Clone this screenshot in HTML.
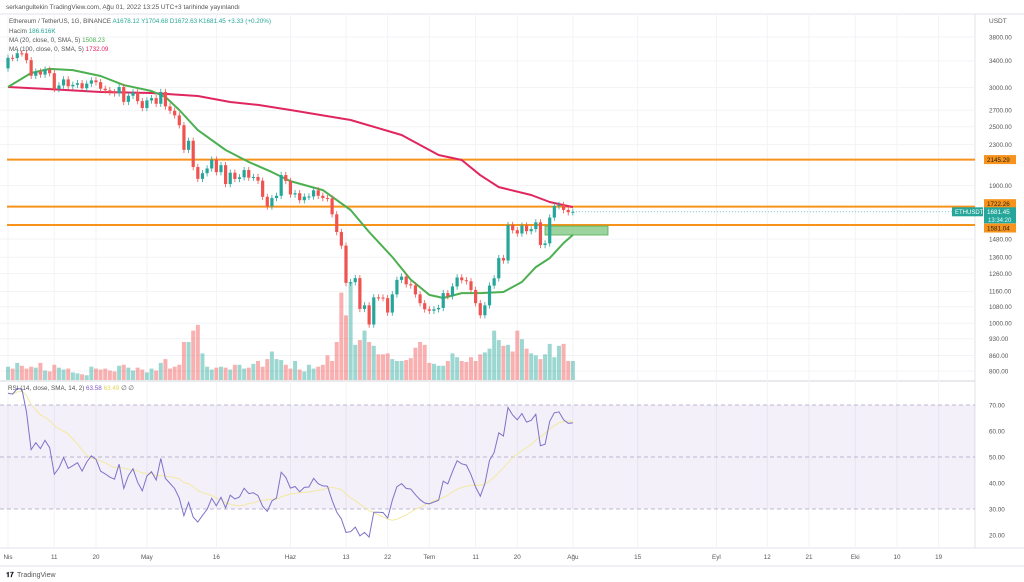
<!DOCTYPE html>
<html><head><meta charset="utf-8"><style>
html,body{margin:0;padding:0;background:#fff;width:1024px;height:582px;overflow:hidden;font-family:"Liberation Sans",sans-serif}
svg text{font-family:"Liberation Sans",sans-serif}
</style></head><body>
<svg id="c" width="1024" height="582" viewBox="0 0 1024 582" xmlns="http://www.w3.org/2000/svg">
<rect x="0" y="0" width="1024" height="582" fill="#fff"/>
<text x="6" y="9" font-size="6.5" fill="#555">serkangultekin TradingView.com, Ağu 01, 2022 13:25 UTC+3 tarihinde yayınlandı</text>
<line x1="0" y1="14" x2="1024" y2="14" stroke="#e0e3eb" stroke-width="1"/>
<line x1="975" y1="14" x2="975" y2="548" stroke="#e0e3eb" stroke-width="1"/>
<line x1="0" y1="381" x2="975" y2="381" stroke="#d1d4dc" stroke-width="1"/>
<line x1="0" y1="548" x2="1024" y2="548" stroke="#e0e3eb" stroke-width="1"/>
<line x1="0" y1="566" x2="1024" y2="566" stroke="#e0e3eb" stroke-width="1"/>
<g id="grid"></g>
<g id="vol"></g>
<g id="hl"></g>
<g id="ma"></g>
<g id="candles"></g>
<g id="rsi"></g>
<g id="axes"></g>
<g font-size="6.3">
<text x="9" y="23" fill="#555">Ethereum / TetherUS, 1G, BINANCE  <tspan fill="#26a69a">A1678.12  Y1704.68  D1672.63  K1681.45  +3.33 (+0.20%)</tspan></text>
<text x="9" y="33" fill="#555">Hacim  <tspan fill="#26a69a">186.616K</tspan></text>
<text x="9" y="42" fill="#555">MA (20, close, 0, SMA, 5)  <tspan fill="#4caf50">1508.23</tspan></text>
<text x="9" y="51" fill="#555">MA (100, close, 0, SMA, 5)  <tspan fill="#e91e63">1732.09</tspan></text>
<text x="8" y="390" fill="#555">RSI (14, close, SMA, 14, 2)  <tspan fill="#7e57c2">63.58</tspan>  <tspan fill="#e6d35a">63.49</tspan>  ∅  ∅</text>
</g>
<text x="989" y="23" font-size="6.5" fill="#555">USDT</text>
<g><text x="6" y="577" font-size="7" fill="#131722" font-weight="bold">𝟏𝟕</text><text x="17" y="577" font-size="7" fill="#555">TradingView</text></g>
</svg>
<script>
// ---- data ----
const preCloses=[2945,3000,2860,2897,2972,3031,3109,3106,3143,3292,3336,3402,3385,3283];
const closes=[3449,3445,3522,3521,3411,3171,3233,3189,3262,3209,2982,3031,3118,3019,3040,3063,2992,3057,3104,3078,2986,2964,2938,2922,3009,2808,2889,2935,2817,2729,
2827,2857,2783,2940,2749,2694,2636,2518,2245,2342,2072,1961,2013,2058,2145,2023,2090,1914,2018,1960,1975,2043,1972,1978,1944,1803,1725,1793,1812,1996,1942,
1823,1834,1775,1804,1806,1859,1812,1793,1790,1662,1530,1436,1207,1211,1234,1069,1087,994,1128,1127,1124,1051,1144,1224,1243,1199,1193,1144,1098,1067,
1060,1067,1074,1151,1134,1187,1238,1222,1216,1168,1098,1038,1087,1192,1233,1355,1340,1581,1543,1520,1577,1536,1551,1601,1440,1451,1637,1727,1736,1696,1678.12,1681.45];
const volumes=[14,12,18,15,12,14,13,18,10,9,16,13,11,12,8,7,6,5,14,12,11,12,10,9,15,16,13,10,13,11,
8,12,10,18,22,12,14,16,40,40,52,58,28,14,11,13,14,13,11,16,16,12,13,17,20,14,22,30,22,21,16,
12,20,11,9,16,12,14,16,26,20,40,92,68,103,37,42,52,40,36,27,27,28,22,20,20,21,23,34,40,37,
18,17,15,15,20,28,24,20,19,24,20,27,29,33,52,42,36,37,30,52,43,33,28,26,22,27,38,24,36,38,20,20,5];
const ma20Days=[0,5,9,14,20,25,31,34,37,41,47,52,57,61,68,74,78,83,87,91,94,98,102,107,111,114,117,120,122];
const ma20Vals=[3010,3212,3275,3257,3168,3037,2954,2872,2704,2462,2243,2121,2024,1940,1861,1696,1530,1362,1225,1141,1125,1151,1151,1157,1212,1299,1355,1454,1510];
const ma100Days=[0,9,20,31,41,48,54,61,74,85,93,98,102,106,113,117,122];
const ma100Vals=[3010,2980,2940,2927,2886,2806,2768,2704,2580,2406,2192,2141,1995,1887,1819,1760,1719];
const priceTicks=[3800,3400,3000,2700,2500,2300,1900,1480,1360,1260,1160,1080,1000,930,860,800];
const levels=[2145.29,1722.26,1581.04];
const rsiTicks=[70,60,50,40,30,20];
const dateLabels=["Nis","11","20","May","16","Haz","13","22","Tem","11","20","Ağu","15","Eyl","12","21","Eki","10","19"];
const dateDays=[0,10,19,30,45,61,73,82,91,101,110,122,136,153,164,173,183,192,201];
// ---- scales ----
const NS="http://www.w3.org/2000/svg";
const X0=8,DX=4.63;
const x=d=>X0+d*DX;
const LT=Math.log(3800),K=214.4;
const y=p=>37+(LT-Math.log(p))*K;
const ry=v=>405+(70-v)*2.6;
function mk(tag,attrs,parent){const e=document.createElementNS(NS,tag);for(const k in attrs)e.setAttribute(k,attrs[k]);parent.appendChild(e);return e;}
const g=id=>document.getElementById(id);
// grid
priceTicks.forEach(p=>{const l=mk('line',{x1:0,x2:975,y1:y(p),y2:y(p),stroke:'#f2f3f6','stroke-width':1},g('grid'));


const t=mk('text',{x:989,y:y(p)+2.3,'font-size':6.3,fill:'#555'},g('axes'));t.textContent=p.toFixed(2);

});
dateDays.forEach((d,i)=>{const l=mk('line',{x1:x(d),x2:x(d),y1:14,y2:548,stroke:'#f2f3f6','stroke-width':1},g('grid'));


const t=mk('text',{x:x(d),y:559,'font-size':6.3,fill:'#555','text-anchor':'middle'},g('axes'));t.textContent=dateLabels[i];

});
// rsi band
const band=mk('rect',{x:0,y:ry(70),width:975,height:ry(30)-ry(70),fill:'rgba(126,87,194,0.09)'},g('rsi'));


[70,50,30].forEach(v=>{const l=mk('line',{x1:0,x2:975,y1:ry(v),y2:ry(v),stroke:'#a9a3c4','stroke-dasharray':'4 3','stroke-width':0.8},g('rsi'));

});
rsiTicks.forEach(v=>{const t=mk('text',{x:989,y:ry(v)+2.3,'font-size':6.3,fill:'#555'},g('axes'));t.textContent=v.toFixed(2);

});
// candles & volume
const opens=closes.map((c,i)=>i?closes[i-1]:preCloses[preCloses.length-1]);
closes.forEach((c,i)=>{const o=opens[i],up=c>=o,col=up?'#26a69a':'#ef5350';
const vh=volumes[i]*0.95;
const vb=mk('rect',{x:x(i)-2,y:380-vh,width:4,height:vh,fill:up?'rgba(38,166,154,0.45)':'rgba(239,83,80,0.45)'},g('vol'));


const hi=Math.max(o,c)*1.015,lo=Math.min(o,c)*0.985;
const w=mk('line',{x1:x(i),x2:x(i),y1:y(hi),y2:y(lo),stroke:col,'stroke-width':0.8},g('candles'));


const top=y(Math.max(o,c)),bh=Math.max(1,y(Math.min(o,c))-top);
const b=mk('rect',{x:x(i)-1.6,y:top,width:3.2,height:bh,fill:col},g('candles'));

});
// MAs
function line(days,vals,color,name){const d=days.map((dd,i)=>(i?'L':'M')+x(dd).toFixed(1)+' '+y(vals[i]).toFixed(1)).join(' ');
const p=mk('path',{d:d,fill:'none',stroke:color,'stroke-width':2,'stroke-linejoin':'round'},g('ma'));

}
line(ma100Days,ma100Vals,'#e0265e','ma100-line');
line(ma20Days,ma20Vals,'#4caf50','ma20-line');
// horizontal levels
const lvlNames=['resistance-2145','resistance-1722','support-1581'];
const tagOff=[0,-3,3];
levels.forEach((p,i)=>{const l=mk('line',{x1:7,x2:975,y1:y(p),y2:y(p),stroke:'#f7931a','stroke-width':2},g('hl'));


const r=mk('rect',{x:984,y:y(p)-4.5+tagOff[i],width:32,height:9,fill:'#f7931a'},g('axes'));


const t=mk('text',{x:987,y:y(p)+2.3+tagOff[i],'font-size':6.3,fill:'#222'},g('axes'));t.textContent=p.toFixed(2);

});
// demand zone
const z=mk('rect',{x:545,y:y(1581)+1,width:63,height:9,fill:'rgba(76,175,80,0.55)',stroke:'#4caf50','stroke-width':0.8},g('hl'));


// last price
const lp=closes[closes.length-1];
const dl=mk('line',{x1:x(122),x2:975,y1:y(lp),y2:y(lp),stroke:'#26a69a','stroke-dasharray':'1 2','stroke-width':0.7},g('hl'));


const sb=mk('rect',{x:952,y:y(lp)-4.5,width:31,height:9,fill:'#26a69a'},g('axes'));


const st=mk('text',{x:955,y:y(lp)+2.3,'font-size':6,fill:'#fff'},g('axes'));st.textContent='ETHUSDT';


const pb=mk('rect',{x:984,y:y(lp)-4.5,width:32,height:16,fill:'#26a69a'},g('axes'));


const pt=mk('text',{x:987,y:y(lp)+2.3,'font-size':6.3,fill:'#fff'},g('axes'));pt.textContent=lp.toFixed(2);


const ct=mk('text',{x:988,y:y(lp)+10,'font-size':6,fill:'#dff'},g('axes'));ct.textContent='13:34:20';


// RSI computed from closes
const all=preCloses.concat(closes);
let ag=0,al=0;for(let i=1;i<=14;i++){const d=all[i]-all[i-1];if(d>0)ag+=d;else al-=d;}ag/=14;al/=14;
const rsi=[];
for(let i=14;i<all.length;i++){if(i>14){const d=all[i]-all[i-1];ag=(ag*13+Math.max(d,0))/14;al=(al*13+Math.max(-d,0))/14;}
rsi.push(100-100/(1+ag/Math.max(al,1e-9)));}
const rsiMa=rsi.map((v,i)=>{const s=rsi.slice(Math.max(0,i-13),i+1);return s.reduce((a,b)=>a+b,0)/s.length;});
function rline(arr,color,name){const d=arr.map((v,i)=>(i?'L':'M')+x(i).toFixed(1)+' '+ry(v).toFixed(1)).join(' ');
const p=mk('path',{d:d,fill:'none',stroke:color,'stroke-width':1},g('rsi'));

}
rline(rsiMa,'#f3e9a0','rsi-ma-line');
rline(rsi,'#7e72c8','rsi-line');
</script>
</body></html>
